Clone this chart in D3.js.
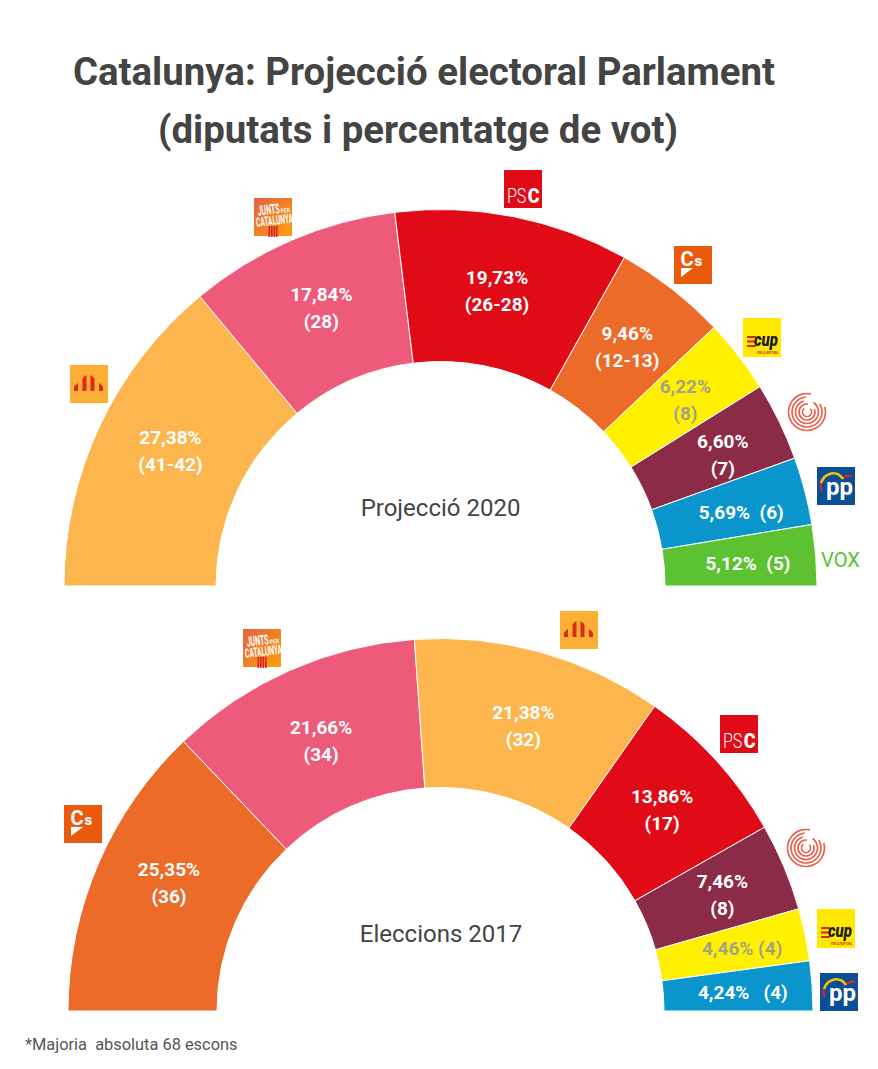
<!DOCTYPE html>
<html>
<head>
<meta charset="utf-8">
<script src="https://cdn.jsdelivr.net/npm/d3@7"></script>
<style>
  html, body { margin: 0; background: #fff; }
  text { font-family: Roboto, sans-serif; white-space: pre; }
</style>
</head>
<body>
<svg id="canvas" width="878" height="1069"></svg>
<script>
const parties2020 = ["erc", "junts", "psc", "cs", "cup", "comuns", "pp", "vox"];
const votes2020 = [27.38, 17.84, 19.73, 9.46, 6.22, 6.6, 5.69, 5.12];
const labels2020 = [
  ["27,38%", "(41-42)"], ["17,84%", "(28)"], ["19,73%", "(26-28)"], ["9,46%", "(12-13)"],
  ["6,22%", "(8)"], ["6,60%", "(7)"], ["5,69%  (6)"], ["5,12%  (5)"]
];

const parties2017 = ["cs", "junts", "erc", "psc", "comuns", "cup", "pp"];
const votes2017 = [25.35, 21.66, 21.38, 13.86, 7.46, 4.46, 4.24];
const labels2017 = [
  ["25,35%", "(36)"], ["21,66%", "(34)"], ["21,38%", "(32)"], ["13,86%", "(17)"],
  ["7,46%", "(8)"], ["4,46% (4)"], ["4,24%   (4)"]
];

const colors = {
  erc: "#fdb64e", junts: "#ee5a79", psc: "#e10a17", cs: "#ec6b28",
  cup: "#fff000", comuns: "#8c2b47", pp: "#0a95cd", vox: "#5dc232"
};
const labelColors = { cup: "#a5a284" };

// label shift away from the arc centroid
const nudge2020 = [[2, -7], [0, -2.5], [-1.5, 0], [2, -2], [7, -2], [12, 0], [10, 2], [8, 2]];
const nudge2017 = [[2.4, -11], [1, 3], [3, 1.6], [1, -1], [7, -1], [10, -1], [5, 2]];

const logos2020 = [
  ["erc", 70, 365], ["junts", 254, 198], ["psc", 504, 170], ["cs", 674, 246],
  ["cup", 743, 318], ["comuns", 788, 393], ["pp", 817, 467], ["vox", 821, 546]
];
const logos2017 = [
  ["cs", 64, 805], ["junts", 243, 629], ["erc", 560, 611], ["psc", 720, 715],
  ["comuns", 787, 829], ["cup", 817, 909], ["pp", 820, 973]
];

const svg = d3.select("#canvas");

const defs = svg.append("defs");
const grad = defs.append("linearGradient").attr("id", "juntsBg")
  .attr("x1", 0).attr("y1", 0).attr("x2", 1).attr("y2", 1);
grad.append("stop").attr("offset", "0%").attr("stop-color", "#e85f42");
grad.append("stop").attr("offset", "100%").attr("stop-color", "#f7a20c");

const addText = (g, str, x, y, size, weight, fill, anchor = "middle") =>
  g.append("text").attr("x", x).attr("y", y)
    .attr("font-size", size).attr("font-weight", weight)
    .attr("fill", fill).attr("text-anchor", anchor).text(str);

const title = svg.append("g");
addText(title, "Catalunya: Projecció electoral Parlament", 424, 85, 38.4, 700, "#444444");
addText(title, "(diputats i percentatge de vot)", 418, 143, 38.4, 700, "#444444");

const renderHemicycle = (parties, votes, labels, nudges, cx, cy, outer, inner) => {
  const pie = d3.pie().sort(null).startAngle(-Math.PI / 2).endAngle(Math.PI / 2);
  const arc = d3.arc().innerRadius(inner).outerRadius(outer);
  const g = svg.append("g").attr("transform", `translate(${cx},${cy})`);
  const slices = pie(votes);

  g.selectAll("path").data(slices).enter().append("path")
    .attr("d", arc)
    .attr("fill", (d, i) => colors[parties[i]])
    .attr("stroke", "#fff")
    .attr("stroke-width", 1);

  slices.forEach((d, i) => {
    const [x, y] = arc.centroid(d);
    const [dx, dy] = nudges[i];
    const lines = labels[i];
    const fill = labelColors[parties[i]] || "#fff";
    lines.forEach((line, k) => {
      const offset = (k - (lines.length - 1) / 2) * 27 + 6.5;
      addText(g, line, x + dx, y + dy + offset, 19, 700, fill);
    });
  });
};

const logoErc = (g, s) => {
  g.append("rect").attr("width", s).attr("height", s).attr("fill", "#fdae34");
  const bars = [
    "M4 26V22Q5 20 8 18V26Z", "M12.5 26V14Q13 12 16.5 10V26Z",
    "M20.5 26V10Q24 12 24.5 14V26Z", "M29 26V18Q32 20 33 22V26Z"
  ];
  bars.forEach(d => g.append("path").attr("d", d).attr("fill", "#e0281a"));
};

const logoJunts = (g, s) => {
  g.append("rect").attr("width", s).attr("height", s).attr("fill", "url(#juntsBg)");
  const t = g.append("g").attr("transform", "rotate(-7 19 15)");
  addText(t, "JUNTS", 4, 16, 14, 700, "#fff", "start")
    .attr("textLength", 22).attr("lengthAdjust", "spacingAndGlyphs");
  addText(t, "PER", 27, 16, 6, 700, "#fff", "start")
    .attr("textLength", 9).attr("lengthAdjust", "spacingAndGlyphs");
  addText(t, "CATALUNYA", 1, 27, 13, 700, "#fff", "start")
    .attr("textLength", 37).attr("lengthAdjust", "spacingAndGlyphs");
  [14.5, 17, 19.5, 22].forEach(x => {
    g.append("rect").attr("x", x).attr("y", 28).attr("width", 1.6).attr("height", 11).attr("fill", "#d9202c");
  });
};

const logoPsc = (g, s) => {
  g.append("rect").attr("width", s).attr("height", s).attr("fill", "#e10a17");
  const ps = g.append("g").attr("transform", "translate(3,32.5) scale(0.8,1)");
  addText(ps, "PS", 0, 0, 20, 300, "#fff", "start");
  const c = g.append("g").attr("transform", "translate(23.8,32.5) scale(0.9,1)");
  addText(c, "C", 0, 0, 20, 900, "#fff", "start");
};

const logoCs = (g, s) => {
  g.append("rect").attr("width", s).attr("height", s).attr("fill", "#e95a0c");
  addText(g, "C", 6.5, 20, 20, 700, "#fff", "start");
  addText(g, "s", 20.5, 20, 15, 900, "#fff", "start");
  g.append("path").attr("d", "M7 22H19L7 31Z").attr("fill", "#fff");
};

const logoCup = (g, s) => {
  g.append("rect").attr("width", s).attr("height", s + 1).attr("fill", "#ffe900");
  [18, 22.5, 27].forEach(y => {
    g.append("rect").attr("x", 4).attr("y", y).attr("width", 9).attr("height", 2).attr("fill", "#d9261c");
  });
  addText(g, "cup", 11, 28, 18, 900, "#1a1a1a", "start").attr("font-style", "italic")
    .attr("textLength", 24).attr("lengthAdjust", "spacingAndGlyphs");
  addText(g, "PER LA RUPTURA", 14, 36, 3.2, 700, "#d9261c", "start")
    .attr("textLength", 21).attr("lengthAdjust", "spacingAndGlyphs");
};

const logoComuns = (g, s) => {
  const c = s / 2;
  const ring = d3.arc();
  const rings = [[18.5, 1.3, 6.5], [15, 1.0, 6.2], [11.5, 0.6, 6.0], [8, 1.2, 6.4], [4.5, 0.8, 5.6]];
  rings.forEach(([r, a0, a1]) => {
    g.append("path")
      .attr("transform", `translate(${c},${c})`)
      .attr("d", ring({ innerRadius: r - 0.85, outerRadius: r + 0.85, startAngle: a0, endAngle: a1 }))
      .attr("fill", "#e9604c");
  });
};

const logoPp = (g, s) => {
  g.append("rect").attr("width", s).attr("height", s).attr("fill", "#0a4f95");
  g.append("path").attr("d", "M5 24C1 16 6 9 12 8").attr("fill", "none").attr("stroke", "#d9262c").attr("stroke-width", 2);
  g.append("path").attr("d", "M26 12C28 9 31 8 35 9").attr("fill", "none").attr("stroke", "#d9262c").attr("stroke-width", 2);
  g.append("path").attr("d", "M4 16C8 5 20 3 26 12").attr("fill", "none").attr("stroke", "#f5c400").attr("stroke-width", 2.5);
  addText(g, "pp", 22.5, 28, 24, 700, "#fff");
};

const logoVox = g => {
  addText(g, "VOX", 0, 21, 21, 400, "#5dc232", "start")
    .attr("textLength", 39).attr("lengthAdjust", "spacingAndGlyphs");
};

const logoDrawers = {
  erc: logoErc, junts: logoJunts, psc: logoPsc, cs: logoCs,
  cup: logoCup, comuns: logoComuns, pp: logoPp, vox: logoVox
};

const renderLogos = spots => {
  spots.forEach(([name, x, y]) => {
    const g = svg.append("g").attr("transform", `translate(${x},${y})`);
    logoDrawers[name](g, 38);
  });
};

renderHemicycle(parties2020, votes2020, labels2020, nudge2020, 440.5, 586, 376.5, 224.5);
renderHemicycle(parties2017, votes2017, labels2017, nudge2017, 440.5, 1011, 372.5, 223.5);
renderLogos(logos2020);
renderLogos(logos2017);

addText(svg, "Projecció 2020", 440.5, 516, 24, 400, "#444444");
addText(svg, "Eleccions 2017", 441, 942, 24, 400, "#444444");
addText(svg, "*Majoria  absoluta 68 escons", 25, 1050, 16.4, 400, "#555555", "start");
</script>
</body>
</html>
